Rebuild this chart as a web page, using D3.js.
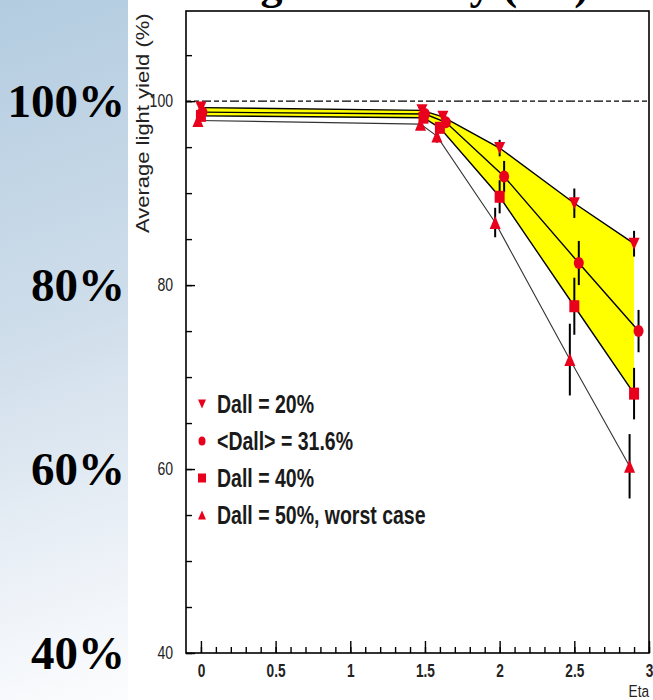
<!DOCTYPE html>
<html><head><meta charset="utf-8">
<script src="https://cdnjs.cloudflare.com/ajax/libs/d3/7.8.5/d3.min.js"></script>
<style>body{margin:0;background:#fff;} svg{display:block}</style>
</head><body><svg id="c" width="653" height="700"></svg>
<script>
// ---------- data ----------
const etaMajor = [0, 0.5, 1, 1.5, 2, 2.5, 3];
const etaMinor = d3.range(0, 31).map(i => i / 10);
const lyMajor = [40, 60, 80, 100];
const lyMinor = d3.range(40, 110, 5);
const pctLabels = ["40%", "60%", "80%", "100%"];
const seriesNames = ["Dall = 20%", "<Dall> = 31.6%", "Dall = 40%", "Dall = 50%, worst case"];
const seriesShapes = ["down", "circle", "square", "up"];

const eta20 = [0.00, 1.48, 1.62, 2.00, 2.50, 2.90];
const ly20  = [99.3, 99.0, 98.3, 94.9, 88.9, 84.5];
const err20 = [0.5, 0.5, 0.5, 0.9, 1.6, 1.4];

const eta32 = [0.01, 1.50, 1.64, 2.03, 2.53, 2.93];
const ly32  = [98.8, 98.6, 97.7, 91.8, 82.4, 75.0];
const err32 = [0.5, 0.5, 0.6, 1.7, 2.4, 2.3];

const eta40 = [0.00, 1.49, 1.60, 2.00, 2.50, 2.90];
const ly40  = [98.4, 98.2, 97.1, 89.6, 77.7, 68.2];
const err40 = [0.5, 0.5, 0.6, 1.8, 3.1, 2.8];

const eta50 = [-0.02, 1.47, 1.58, 1.97, 2.47, 2.87];
const ly50  = [97.9, 97.5, 96.2, 86.8, 71.9, 60.3];
const err50 = [0.5, 0.6, 0.7, 1.6, 3.9, 3.5];

const titleText = "Light Stability (LY)";

// ---------- setup ----------
const svg = d3.select("#c");
const W = 653, H = 700;
const x = d3.scaleLinear().domain([-0.1, 3]).range([186, 649]);
const y = d3.scaleLinear().domain([40, 109.8]).range([653, 11]);

const series = [
  {eta: eta20, ly: ly20, err: err20},
  {eta: eta32, ly: ly32, err: err32},
  {eta: eta40, ly: ly40, err: err40},
  {eta: eta50, ly: ly50, err: err50}
].map((s, i) => ({...s, name: seriesNames[i], shape: seriesShapes[i],
  pts: s.eta.map((e, j) => ({e, v: s.ly[j], er: s.err[j]}))}));

// background gradient on slide side
const defs = svg.append("defs");
const grad = defs.append("linearGradient").attr("id", "bg")
  .attr("gradientUnits", "userSpaceOnUse")
  .attr("x1", 0).attr("y1", 0).attr("x2", 240).attr("y2", 700);
grad.append("stop").attr("offset", 0).attr("stop-color", "#b3cce0");
grad.append("stop").attr("offset", 0.45).attr("stop-color", "#d0deeb");
grad.append("stop").attr("offset", 0.8).attr("stop-color", "#f0f4f9");
grad.append("stop").attr("offset", 1).attr("stop-color", "#ffffff");
svg.append("rect").attr("width", W).attr("height", H).attr("fill", "#fff");
svg.append("rect").attr("x", 0).attr("y", 0).attr("width", 128).attr("height", H).attr("fill", "url(#bg)");

// slide title (mostly above the visible area; only descenders show)
svg.append("text").attr("x", 219).attr("y", -1)
  .attr("font-family", "Liberation Serif, Times New Roman, serif")
  .attr("font-weight", "bold").attr("font-size", 44).attr("fill", "#000")
  .text(titleText);

// big percentage labels on slide
svg.append("g").selectAll("text").data(lyMajor).join("text")
  .attr("x", 125).attr("y", d => y(d) + 16)
  .attr("text-anchor", "end")
  .attr("font-family", "Liberation Serif, Times New Roman, serif")
  .attr("font-weight", "bold").attr("font-size", 47).attr("fill", "#000")
  .text((d, i) => pctLabels[i]);

// ---------- plot ----------
const plot = svg.append("g");

// yellow band between Dall=20% and Dall=40%
const band = series[0].pts.concat(series[2].pts.slice().reverse());
plot.append("path")
  .attr("d", d3.line().x(d => x(d.e)).y(d => y(d.v))(band) + "Z")
  .attr("fill", "#ffff00").attr("stroke", "none");

// dashed 100% reference line
plot.append("line")
  .attr("x1", x(-0.1)).attr("x2", x(3)).attr("y1", y(100)).attr("y2", y(100))
  .attr("stroke", "#000").attr("stroke-width", 1.4).attr("stroke-dasharray", "5,3,5,3,9,3");

// series lines
const line = d3.line().x(d => x(d.e)).y(d => y(d.v));
series.forEach((s, i) => {
  plot.append("path").attr("d", line(s.pts)).attr("fill", "none")
    .attr("stroke", i === 3 ? "#333" : "#000").attr("stroke-width", i === 3 ? 1.1 : 1.4);
});

// error bars
series.forEach(s => {
  plot.append("g").selectAll("line").data(s.pts).join("line")
    .attr("x1", d => x(d.e)).attr("x2", d => x(d.e))
    .attr("y1", d => y(d.v + d.er)).attr("y2", d => y(d.v - d.er))
    .attr("stroke", "#000").attr("stroke-width", 2);
});

// markers
function markerPath(shape, w, h) {
  const a = w / 2, b = h / 2;
  if (shape === "down") return `M${-a},${-b}L${a},${-b}L0,${b}Z`;
  if (shape === "up") return `M${-a},${b}L${a},${b}L0,${-b}Z`;
  if (shape === "square") return `M${-a},${-b}H${a}V${b}H${-a}Z`;
  return `M${-a},0A${a},${b} 0 1,0 ${a},0A${a},${b} 0 1,0 ${-a},0Z`;
}
const mSize = {down: [11, 12], circle: [10, 12], square: [10, 12], up: [11, 13]};
series.forEach(s => {
  plot.append("g").selectAll("path").data(s.pts).join("path")
    .attr("transform", d => `translate(${x(d.e)},${y(d.v)})`)
    .attr("d", markerPath(s.shape, ...mSize[s.shape]))
    .attr("fill", "#e8001c");
});

// frame
plot.append("rect").attr("x", x(-0.1)).attr("y", y(109.8))
  .attr("width", x(3) - x(-0.1)).attr("height", y(40) - y(109.8))
  .attr("fill", "none").attr("stroke", "#000").attr("stroke-width", 1.6);

const tickFont = "Liberation Sans, Arial, sans-serif";

// x axis minor + major ticks (inward)
plot.append("g").attr("transform", `translate(0,${y(40)})`)
  .call(d3.axisBottom(x).tickValues(etaMinor).tickSizeInner(-6).tickSizeOuter(0).tickFormat(""))
  .call(g => g.select(".domain").remove())
  .call(g => g.selectAll("line").attr("stroke", "#000").attr("stroke-width", 1.4));
plot.append("g").attr("transform", `translate(0,${y(40)})`)
  .call(d3.axisBottom(x).tickValues(etaMajor).tickSizeInner(-12).tickSizeOuter(0).tickPadding(10)
    .tickFormat(d3.format("")))
  .call(g => g.select(".domain").remove())
  .call(g => g.selectAll("line").attr("stroke", "#000").attr("stroke-width", 1.4))
  .call(g => g.selectAll("text").attr("font-family", tickFont).attr("font-size", 19)
    .attr("font-weight", "bold")
    .attr("fill", "#222").attr("transform", "scale(0.72,1)").attr("dy", "0.71em").attr("y", 11));

// y axis minor + major ticks (inward)
plot.append("g").attr("transform", `translate(${x(-0.1)},0)`)
  .call(d3.axisLeft(y).tickValues(lyMinor).tickSizeInner(-6).tickSizeOuter(0).tickFormat(""))
  .call(g => g.select(".domain").remove())
  .call(g => g.selectAll("line").attr("stroke", "#000").attr("stroke-width", 1.4));
plot.append("g").attr("transform", `translate(${x(-0.1)},0)`)
  .call(d3.axisLeft(y).tickValues(lyMajor).tickSizeInner(-9).tickSizeOuter(0).tickPadding(12)
    .tickFormat(d3.format("")))
  .call(g => g.select(".domain").remove())
  .call(g => g.selectAll("line").attr("stroke", "#000").attr("stroke-width", 1.4))
  .call(g => g.selectAll("text").attr("font-family", tickFont).attr("font-size", 18)
    .attr("fill", "#222").attr("transform", "scale(0.78,1)").attr("x", -13 / 0.78));

// axis titles
plot.append("text")
  .attr("transform", `translate(649,697) scale(0.8,1)`)
  .attr("text-anchor", "end").attr("font-family", tickFont).attr("font-size", 17).attr("fill", "#222")
  .text("Eta");
plot.append("text")
  .attr("transform", `translate(149,233) scale(0.85,1) rotate(-90)`)
  .attr("font-family", tickFont).attr("font-size", 22).attr("fill", "#222")
  .text("Average light yield (%)");

// legend
const leg = plot.append("g");
const legY = [404, 441, 478, 515];
series.forEach((s, i) => {
  const ls = {down: [8, 9], circle: [7, 9], square: [8, 9], up: [8, 9]}[s.shape];
  leg.append("path").attr("transform", `translate(202,${legY[i]})`)
    .attr("d", markerPath(s.shape, ...ls)).attr("fill", "#e8001c");
  leg.append("text").attr("transform", `translate(217,${legY[i] + 9}) scale(0.78,1)`)
    .attr("font-family", tickFont).attr("font-size", 25).attr("font-weight", "bold").attr("fill", "#1a1a1a")
    .text(s.name);
});
</script></body></html>
